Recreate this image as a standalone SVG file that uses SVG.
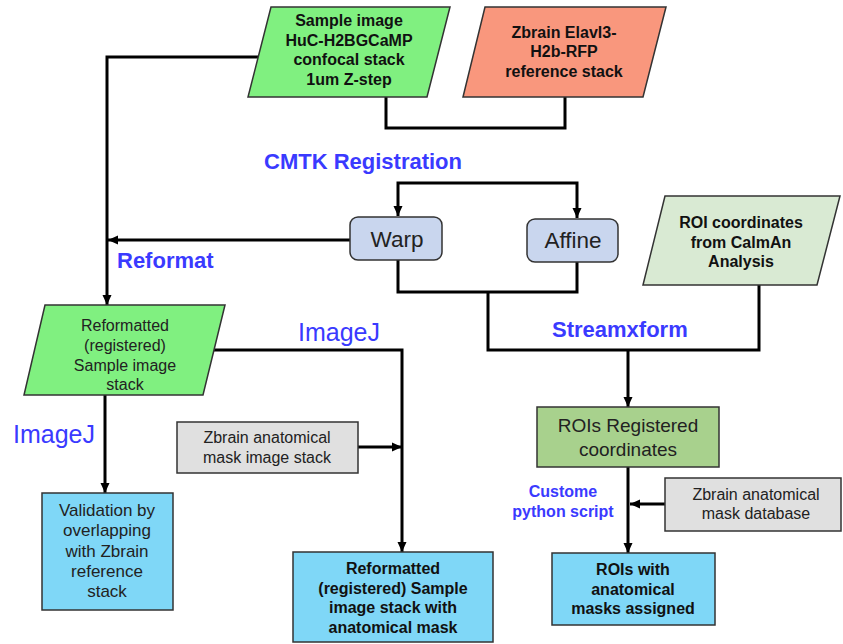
<svg xmlns="http://www.w3.org/2000/svg" width="843" height="644" viewBox="0 0 843 644">
<defs>
<marker id="ah" markerUnits="userSpaceOnUse" markerWidth="10" markerHeight="10" refX="10" refY="5" orient="auto">
<path d="M0,0.5 L10,5 L0,9.5 z" fill="#000"/>
</marker>
<style>
.shape{stroke:#333;stroke-width:1.5}
.conn{fill:none;stroke:#000;stroke-width:3}
.b{font-family:"Liberation Sans",Arial,sans-serif;font-weight:bold;font-size:16px;fill:#111;text-anchor:middle}
.r{font-family:"Liberation Sans",Arial,sans-serif;font-size:16px;fill:#222;text-anchor:middle}
.lbl{font-family:"Liberation Sans",Arial,sans-serif;font-weight:bold;font-size:22px;fill:#3a3aff}
.ij{font-family:"Liberation Sans",Arial,sans-serif;font-size:25px;fill:#3a3aff}
</style>
</defs>
<rect width="843" height="644" fill="#fff"/>

<g id="connectors">
<path class="conn" d="M258,57 H107 V305" marker-end="url(#ah)"/>
<path class="conn" d="M386,97 V128 H565 V97"/>
<path class="conn" d="M487,183 H398 V216" marker-end="url(#ah)"/>
<path class="conn" d="M487,183 H577 V218" marker-end="url(#ah)"/>
<path class="conn" d="M350,240 H108" marker-end="url(#ah)"/>
<path class="conn" d="M398,259 V292 H577 V262"/>
<path class="conn" d="M488,292 V350 H759 V285"/>
<path class="conn" d="M628,350 V407" marker-end="url(#ah)"/>
<path class="conn" d="M214,350 H402 V552" marker-end="url(#ah)"/>
<path class="conn" d="M105,395 V493" marker-end="url(#ah)"/>
<path class="conn" d="M358,447 H402" marker-end="url(#ah)"/>
<path class="conn" d="M628,467 V553" marker-end="url(#ah)"/>
<path class="conn" d="M665,504 H630" marker-end="url(#ah)"/>
</g>

<g id="labels">
<text class="lbl" x="363" y="169" text-anchor="middle">CMTK Registration</text>
<text class="lbl" x="117" y="268">Reformat</text>
<text class="lbl" x="552" y="337">Streamxform</text>
<text class="ij" x="298" y="341">ImageJ</text>
<text class="ij" x="13" y="443">ImageJ</text>
<text class="b" x="563" y="497" fill="#3a3aff" style="fill:#3a3aff">Custome</text>
<text class="b" x="563" y="517" style="fill:#3a3aff">python script</text>
</g>

<g id="sample">
<polygon class="shape" points="271,7 450,7 427,97 248,97" fill="#80f080"/>
<text class="b" x="349" y="26">Sample image</text>
<text class="b" x="349" y="46">HuC-H2BGCaMP</text>
<text class="b" x="349" y="65">confocal stack</text>
<text class="b" x="349" y="85">1um Z-step</text>
</g>

<g id="zbrain-ref">
<polygon class="shape" points="485,7 666,7 643,97 463,97" fill="#f9977d"/>
<text class="b" x="564" y="38">Zbrain Elavl3-</text>
<text class="b" x="564" y="57">H2b-RFP</text>
<text class="b" x="564" y="77">reference stack</text>
</g>

<g id="warp">
<rect class="shape" x="350" y="217" width="92" height="43" rx="8" fill="#c9d6ee"/>
<text class="r" x="397" y="247" style="font-size:22.5px">Warp</text>
</g>

<g id="affine">
<rect class="shape" x="527" y="219" width="91" height="43" rx="8" fill="#c9d6ee"/>
<text class="r" x="573" y="248" style="font-size:22.5px">Affine</text>
</g>

<g id="roi-coords">
<polygon class="shape" points="665,196 840,196 817,285 643,285" fill="#d9ead3"/>
<text class="b" x="741" y="228">ROI coordinates</text>
<text class="b" x="741" y="248">from CalmAn</text>
<text class="b" x="741" y="267">Analysis</text>
</g>

<g id="reformatted">
<polygon class="shape" points="45,305 225,305 203,395 24,395" fill="#80f080"/>
<text class="r" x="125" y="331">Reformatted</text>
<text class="r" x="125" y="351">(registered)</text>
<text class="r" x="125" y="371">Sample image</text>
<text class="r" x="125" y="390">stack</text>
</g>

<g id="mask-image-stack">
<rect class="shape" x="177" y="422" width="181" height="51" fill="#e0e0e0"/>
<text class="r" x="267" y="443">Zbrain anatomical</text>
<text class="r" x="267" y="463">mask image stack</text>
</g>

<g id="rois-registered">
<rect class="shape" x="537" y="407" width="182" height="60" fill="#a8d18d"/>
<text class="r" x="628" y="432" style="font-size:19px">ROIs Registered</text>
<text class="r" x="628" y="456" style="font-size:19px">coordinates</text>
</g>

<g id="validation">
<rect class="shape" x="42" y="493" width="131" height="117" fill="#7fd7f7"/>
<text class="r" x="107" y="516" style="font-size:17px">Validation by</text>
<text class="r" x="107" y="536" style="font-size:17px">overlapping</text>
<text class="r" x="107" y="557" style="font-size:17px">with Zbrain</text>
<text class="r" x="107" y="577" style="font-size:17px">reference</text>
<text class="r" x="107" y="597" style="font-size:17px">stack</text>
</g>

<g id="reformatted-mask">
<rect class="shape" x="293" y="552" width="200" height="90" fill="#7fd7f7"/>
<text class="b" x="393" y="574">Reformatted</text>
<text class="b" x="393" y="594">(registered) Sample</text>
<text class="b" x="393" y="613">image stack with</text>
<text class="b" x="393" y="633">anatomical mask</text>
</g>

<g id="mask-database">
<rect class="shape" x="665" y="478" width="176" height="53" fill="#e0e0e0"/>
<text class="r" x="756" y="500">Zbrain anatomical</text>
<text class="r" x="756" y="519">mask database</text>
</g>

<g id="rois-masks">
<rect class="shape" x="552" y="553" width="163" height="72" fill="#7fd7f7"/>
<text class="b" x="633" y="575">ROIs with</text>
<text class="b" x="633" y="595">anatomical</text>
<text class="b" x="633" y="614">masks assigned</text>
</g>
</svg>
